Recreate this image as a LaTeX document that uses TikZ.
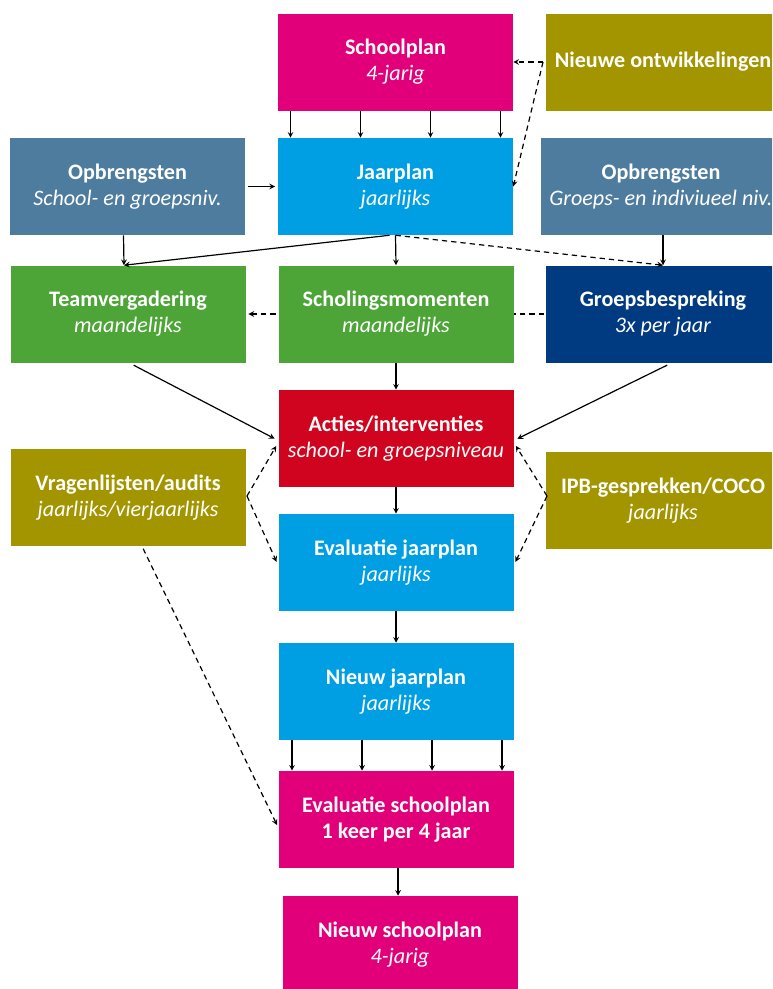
\documentclass[tikz,border=0pt]{standalone}
\usepackage{fontspec}
\setmainfont{Carlito}
\usetikzlibrary{arrows,calc}

\definecolor{planpink}{HTML}{E2007A}
\definecolor{olive}{HTML}{A39500}
\definecolor{lightblue}{HTML}{009FE3}
\definecolor{steel}{HTML}{4D7C9E}
\definecolor{meetgreen}{HTML}{4CA536}
\definecolor{navy}{HTML}{003A80}
\definecolor{actred}{HTML}{D0041E}

\newcommand{\freq}[1]{\textnormal{\itshape #1}}

\begin{document}
\begin{tikzpicture}[x=0.75pt,y=-0.75pt,
  box/.style={rectangle, minimum width=176.25pt, minimum height=72.75pt, inner sep=0pt,
    align=center, text=white, font=\fontsize{16.6}{19.5}\selectfont\bfseries},
  link/.style={->, >=stealth, line width=0.9pt},
  dlink/.style={link, dash pattern=on 4pt off 3pt}]

\useasboundingbox (0,0) rectangle (772,989);
\clip (0,0) rectangle (772,989);

% plans
\node [box, fill=planpink] (schoolplan) at (395.5,62) {Schoolplan\\\freq{4-jarig}};
\node [box, fill=olive] (nieuw) at (663,62) {Nieuwe ontwikkelingen};
\node [box, fill=lightblue] (jaarplan) at (395.5,186.5) {Jaarplan\\\freq{jaarlijks}};
\node [box, fill=steel] (opbrL) at (127.5,186.5) {Opbrengsten\\\freq{School- en groepsniv.}};
\node [box, fill=steel, minimum width=180pt] (opbrR) at (661,186.5) {Opbrengsten\\\freq{Groeps- en indiviueel niv.}};

% meetings
\node [box, fill=meetgreen] (team) at (128,314) {Teamvergadering\\\freq{maandelijks}};
\node [box, fill=meetgreen] (scholing) at (396,314) {Scholingsmomenten\\\freq{maandelijks}};
\node [box, fill=navy] (groeps) at (663,314) {Groepsbespreking\\\freq{3x per jaar}};

% actions and evaluation
\node [box, fill=actred] (acties) at (396,438.5) {Acties/interventies\\\freq{school- en groepsniveau}};
\node [box, fill=olive] (vragen) at (128,497.5) {Vragenlijsten/audits\\\freq{jaarlijks/vierjaarlijks}};
\node [box, fill=olive] (ipb) at (663,500.5) {IPB-gesprekken/COCO\\\freq{jaarlijks}};
\node [box, fill=lightblue] (evaljp) at (396,562.5) {Evaluatie jaarplan\\\freq{jaarlijks}};
\node [box, fill=lightblue] (nieuwjp) at (396,691.5) {Nieuw jaarplan\\\freq{jaarlijks}};
\node [box, fill=planpink] (evalsp) at (396,819.5) {Evaluatie schoolplan\\1 keer per 4 jaar};
\node [box, fill=planpink] (nieuwsp) at (400,944.5) {Nieuw schoolplan\\\freq{4-jarig}};

% schoolplan to jaarplan
\foreach \dx in {-105,-35,35,105}
  \draw [link] ($(schoolplan.south)+(\dx,0)$) -- ($(jaarplan.north)+(\dx,0)$);

% new developments
\coordinate (split) at (543,62);
\draw [dlink] (split) -- (schoolplan.east);
\draw [dlink] (split) -- (jaarplan.east);

% results
\draw [link, shorten <=2pt, shorten >=2pt] (opbrL.east) -- (jaarplan.west);
\draw [link] ($(opbrL.south)+(-4,0)$) -- ($(team.north)+(-4,0)$);
\draw [link] (groeps.north |- opbrR.south) -- (groeps.north);

% jaarplan to meetings
\draw [link] ($(jaarplan.south)+(-6,0)$) -- ($(team.north)+(-4,0)$);
\draw [link] (jaarplan.south) -- (scholing.north);
\draw [dlink] (jaarplan.south) -- (groeps.north);
\draw [dlink, shorten <=2pt, shorten >=2pt] (scholing.west) -- (team.east);
\draw [dash pattern=on 4pt off 3pt, line width=0.9pt, shorten <=1pt] (groeps.west) -- (scholing.east);

% meetings to actions
\draw [link, shorten <=4pt, shorten >=3pt] ($(team.south)+(1,0)$) -- ($(acties.west)+(0,2)$);
\draw [link, shorten <=4pt, shorten >=3pt] ($(groeps.south)+(9,0)$) -- ($(acties.east)+(0,2)$);
\draw [link] (scholing.south) -- (acties.north);
\draw [link] (acties.south) -- (evaljp.north);

% questionnaires and talks
\coordinate (vl) at (247,496);
\coordinate (ip) at (547,496);
\draw [dlink, shorten >=3pt] (vl) -- ($(acties.west)+(0,4)$);
\draw [dlink, shorten >=3pt] (vl) -- ($(evaljp.west)+(0,3)$);
\draw [dlink, shorten >=3pt] (ip) -- ($(acties.east)+(0,4)$);
\draw [dlink, shorten >=3pt] (ip) -- ($(evaljp.east)+(0,3)$);
\draw [dlink, shorten <=2pt, shorten >=2pt] ($(vragen.south)+(14,0)$) -- ($(evalsp.west)+(0,8)$);

% evaluation cycle
\draw [link] (evaljp.south) -- (nieuwjp.north);
\foreach \dx in {-104,-34,36,106}
  \draw [link] ($(nieuwjp.south)+(\dx,0)$) -- ($(evalsp.north)+(\dx,0)$);
\draw [link] ($(evalsp.south)+(2,0)$) -- ($(nieuwsp.north)+(-2,0)$);

\end{tikzpicture}
\end{document}
